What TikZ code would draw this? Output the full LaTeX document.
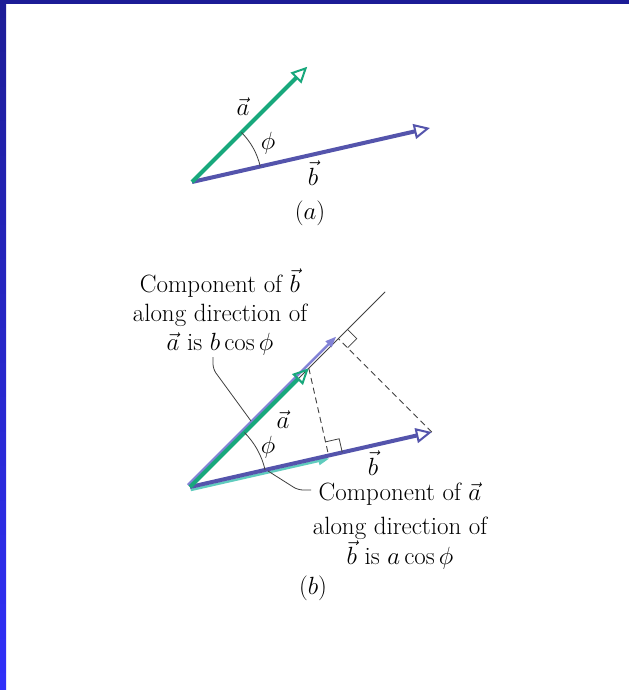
\documentclass[tikz,border=0pt]{standalone}
\usepackage{amsmath}
\usetikzlibrary{positioning,arrows.meta,calc}
\definecolor{vecgreen}{RGB}{24,168,124}
\definecolor{vecblue}{RGB}{84,84,172}
\definecolor{projblue}{RGB}{130,130,214}
\definecolor{projcyan}{RGB}{96,204,190}
\definecolor{edgenavy}{RGB}{28,28,150}
\definecolor{edgeblue}{RGB}{48,48,250}

\begin{document}
\begin{tikzpicture}[
        x=1pt, y=-1pt,
        font=\fontsize{25}{29}\selectfont,
        avec/.style={draw=vecgreen, line width=4pt,
                     -{Triangle[open, length=16pt, width=15pt, line width=2pt]}},
        bvec/.style={draw=vecblue, line width=4pt,
                     -{Triangle[open, length=16pt, width=15pt, line width=2pt]}},
        bproj/.style={draw=projblue, line width=2.5pt, -{Triangle[length=11pt, width=8pt]}},
        aproj/.style={draw=projcyan, line width=2.5pt, -{Triangle[length=11pt, width=8pt]}},
        guide/.style={draw=black!75, line width=0.8pt},
        dropline/.style={draw=black!75, line width=0.9pt, dash pattern=on 6pt off 4pt},
        anglearc/.style={draw=black!75, line width=0.8pt},
        leader/.style={draw=black!75, line width=0.8pt, rounded corners=5pt},
        lbl/.style={inner sep=0pt},
        note/.style={inner sep=0pt, align=center}
    ]
    \useasboundingbox (0,0) rectangle (629,690);
    \fill[white] (0,0) rectangle (629,690);
    \shade[top color=edgenavy, bottom color=edgeblue] (0,0) rectangle (6,690);
    \fill[edgenavy] (0,0) rectangle (629,4);

    % ---- (a) ----
    \coordinate (Oa) at (192,182);
    \coordinate (Aa) at ($(Oa)+(-45:163)$);
    \coordinate (Ba) at ($(Oa)+(-12.8:244)$);
    \draw[bvec] (Oa) -- (Ba);
    \draw[avec] (Oa) -- (Aa);
    \draw[anglearc] ($(Oa)+(-45:70)$) arc[start angle=-45, end angle=-12.8, radius=70];
    \node[lbl] (alabA) at (243,107) {$\vec{a}$};
    \node[lbl] (philabA) at (268,143) {$\phi$};
    \node[lbl] (blabA) at (313,173) {$\vec{b}$};
    \node[lbl] (capA) at (310,213) {$(a)$};

    % ---- (b) ----
    \coordinate (Ob) at (190,487);
    \coordinate (Ab) at ($(Ob)+(-45:168)$);
    \coordinate (Bb) at ($(Ob)+(-12.8:248)$);
    \coordinate (Lb) at ($(Ob)+(-45:276)$);
    \coordinate (Fa) at ($(Ob)!(Bb)!(Lb)$);
    \coordinate (Fb) at ($(Ob)!(Ab)!(Bb)$);
    \draw[guide] (Ob) -- (Lb);
    \draw[bproj, transform canvas={shift={(-2.1,-2.1)}}] (Ob) -- (Fa);
    \draw[aproj, transform canvas={shift={(0.7,3)}}] (Ob) -- (Fb);
    \draw[bvec] (Ob) -- (Bb);
    \draw[avec] (Ob) -- (Ab);
    \draw[dropline] (Bb) -- (Fa);
    \draw[dropline] (Ab) -- (Fb);

    % right angle marks
    \coordinate (sqa1) at ($(Fa)!13pt!(Lb)$);
    \coordinate (sqa2) at ($(Fa)!13pt!(Bb)$);
    \draw[guide] (sqa1) -- ($(sqa1)+(sqa2)-(Fa)$) -- (sqa2);
    \coordinate (sqb1) at ($(Fb)!14pt!(Bb)$);
    \coordinate (sqb2) at ($(Fb)!14pt!(Ab)$);
    \draw[guide] (sqb1) -- ($(sqb1)+(sqb2)-(Fb)$) -- (sqb2);

    \draw[anglearc] ($(Ob)+(-45:77)$) arc[start angle=-45, end angle=-12.8, radius=77];
    \node[lbl] (alabB) at (283,420) {$\vec{a}$};
    \node[lbl] (philabB) at (268,447) {$\phi$};
    \node[lbl] (blabB) at (373,463) {$\vec{b}$};

    % ---- notes ----
    \node[note] (noteb) at (220,312) {Component of $\vec{b}$\\ along direction of\\ $\vec{a}$ is $b\cos\phi$};
    \node[note] (notea) at (400,526) {Component of $\vec{a}$\\[5pt] along direction of\\ $\vec{b}$ is $a\cos\phi$};
    \node[lbl] (capB) at (313,588) {$(b)$};

    \coordinate (leadb) at (213,357);
    \coordinate (leadbend) at (251,421);
    \draw[leader] (leadb) -- ++(0,12) -- (leadbend);
    \coordinate (leada) at (268,471);
    \coordinate (leadaend) at (311,490);
    \draw[leader] (leada) -- (298,490) -- (leadaend);
\end{tikzpicture}
\end{document}
